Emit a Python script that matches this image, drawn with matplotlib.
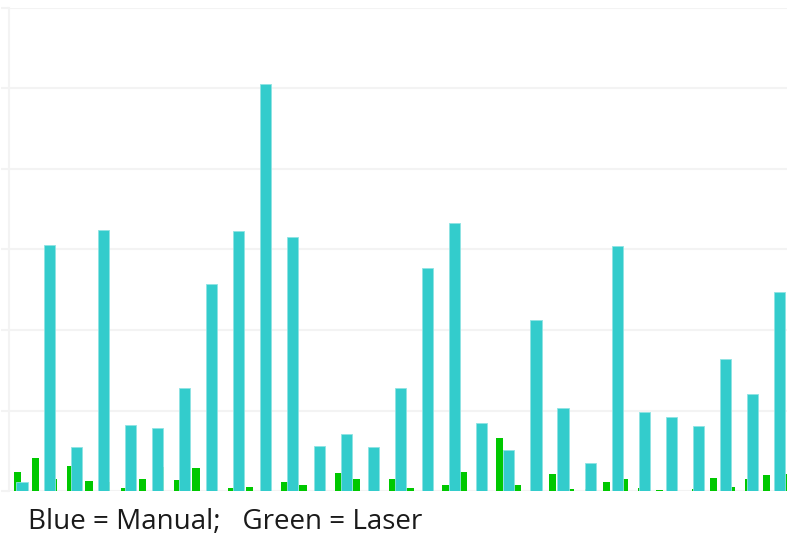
import numpy as np
from matplotlib import pyplot as plt

# manual readings (blue/cyan bars), one per sample
manual = [1.1, 30.6, 5.5, 32.4, 8.2, 7.8, 12.8, 25.7, 32.3, 50.6,
          31.6, 5.6, 7.1, 5.5, 12.8, 27.7, 33.3, 8.4, 5.1, 21.2,
          10.3, 3.5, 30.4, 9.8, 9.2, 8.1, 16.4, 12.0, 24.7]

# laser readings (green bars), denser sampling
laser = [2.36, 4.1, 1.53, 3.1, 1.2, 1.16, 0.37, 1.49, 2.98, 1.37,
         2.86, 0.99, 0.37, 0.5, 0.5, 1.12, 0.75, 0.5, 2.24, 1.49,
         0.5, 1.49, 0.34, 0.5, 0.71, 2.36, 0.5, 6.55, 0.75, 0.5,
         2.07, 0.25, 0.25, 1.16, 1.53, 0.41, 0.12, 0.0, 0.25, 1.61,
         0.5, 1.49, 1.99, 2.11]

caption = "Blue = Manual;   Green = Laser"

grid_col = "#f3f3f3"

fig = plt.figure(figsize=(7.87, 5.35), dpi=100)
ax = fig.add_axes([8.5 / 787, 44 / 535, 778.5 / 787, 483 / 535])

x_manual = np.arange(len(manual))
x_laser = np.arange(len(laser)) * 0.6595 - 0.166

ax.bar(x_laser, laser, width=0.27, color="#00c800", zorder=2)
ax.bar(x_manual, manual, width=0.41, color="#33cccc",
       edgecolor="#8fe3e3", linewidth=0.6, zorder=3)

ax.set_xlim(-0.5, 28.28)
ax.set_ylim(0, 60)
ax.set_yticks(np.arange(0, 61, 10))
ax.set_yticklabels([])
ax.set_xticks([])
ax.tick_params(axis="y", length=6, width=1.5, color=grid_col)
ax.grid(axis="y", color=grid_col, linewidth=1.5)
ax.set_axisbelow(True)

for side in ["top", "right", "bottom"]:
    ax.spines[side].set_visible(False)
ax.spines["left"].set_color(grid_col)
ax.spines["left"].set_linewidth(1.5)

fig.text(28 / 787, 1 - 529 / 535, caption, fontsize=20, family="Open Sans",
         color="#1a1a1a", ha="left", va="baseline")

fig.savefig("out.png", dpi=100)
